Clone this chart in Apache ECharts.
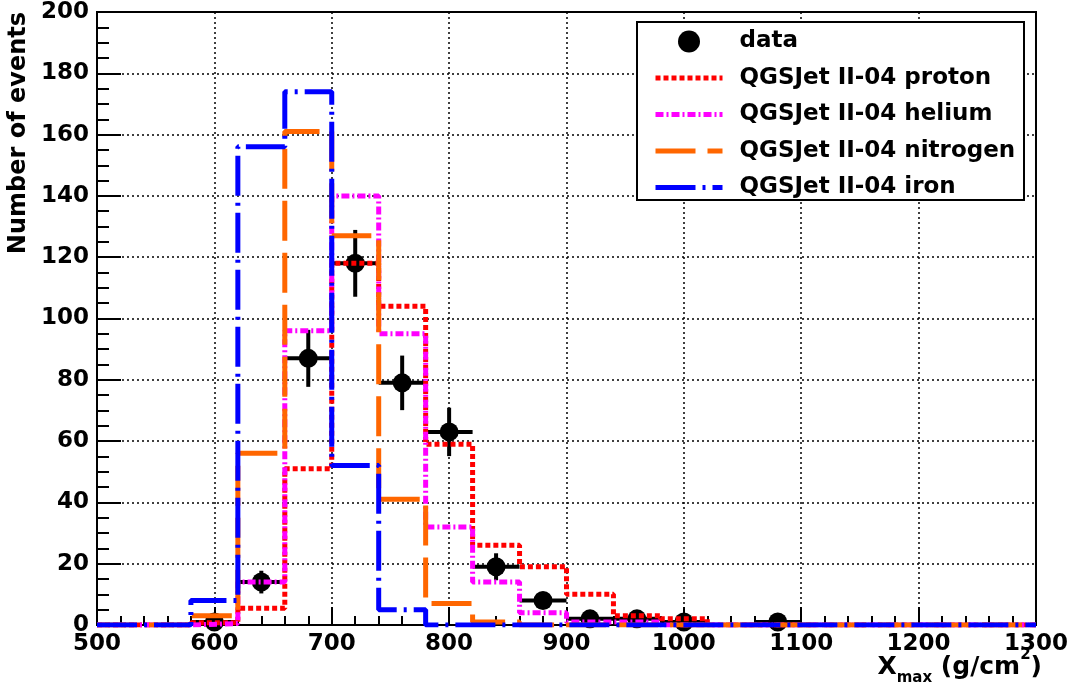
<!DOCTYPE html>
<html>
<head>
<meta charset="utf-8">
<script src="https://cdn.jsdelivr.net/npm/echarts@6/dist/echarts.min.js"></script>
<style>
  html, body { margin: 0; padding: 0; background: #fff; }
  #main { width: 1071px; height: 694px; }
</style>
</head>
<body>
<div id="main"></div>
<script>
// Xmax distributions, bins of 40 g/cm2 from 500 to 1300
var binEdges = [500, 540, 580, 620, 660, 700, 740, 780, 820, 860, 900, 940, 980, 1020, 1060, 1100, 1140, 1180, 1220, 1260, 1300];
var protonVals   = [0, 0, 0.7, 5.5, 51, 118, 104, 59, 26, 19, 10, 3, 2, 0, 0, 0, 0, 0, 0, 0];
var heliumVals   = [0, 0, 0.5, 14, 96, 140, 95, 32, 14, 4, 1, 1, 0, 0, 0, 0, 0, 0, 0, 0];
var nitrogenVals = [0, 0, 3, 56, 161, 127, 41, 7, 1, 0, 0, 0, 0, 0, 0, 0, 0, 0, 0, 0];
var ironVals     = [0, 0, 8, 156, 174, 52, 5, 0, 0, 0, 0, 0, 0, 0, 0, 0, 0, 0, 0, 0];

// measured events (bin centres), with errors
var dataX   = [600, 640, 680, 720, 760, 800, 840, 880, 920, 960, 1000, 1080];
var dataY   = [1, 14, 87, 118, 79, 63, 19, 8, 2, 2, 1, 1];
var dataErr = [1, 3.7, 9.3, 10.9, 8.9, 7.9, 4.4, 2.8, 1.4, 1.4, 1, 1];
var halfBin = 20;

var seriesNames = ['QGSJet II-04 proton', 'QGSJet II-04 helium', 'QGSJet II-04 nitrogen', 'QGSJet II-04 iron'];
var xTicks = [500, 600, 700, 800, 900, 1000, 1100, 1200, 1300];
var yTicks = [0, 20, 40, 60, 80, 100, 120, 140, 160, 180, 200];

var FONT = '"DejaVu Sans", "Liberation Sans", sans-serif';

// histogram -> step points
function stepData(vals) {
  return binEdges.map(function (e, i) {
    return [e, vals[Math.min(i, vals.length - 1)]];
  });
}

function histSeries(name, vals, color, dash) {
  return {
    name: name,
    type: 'line',
    step: 'end',
    symbol: 'none',
    data: stepData(vals),
    lineStyle: { color: color, width: 5, type: dash, cap: 'butt' },
    itemStyle: { color: color },
    z: 3,
    silent: true,
    animation: false
  };
}

// legend entry for a histogram: line only, hide the marker
function lineEntry(name) {
  return { name: name, itemStyle: { opacity: 0, color: 'transparent', borderWidth: 0 } };
}

var chart = echarts.init(document.getElementById('main'), null, { renderer: 'canvas' });

var option = {
  backgroundColor: '#fff',
  animation: false,
  grid: {
    left: 97, right: 31, top: 12, bottom: 69,
    show: true,
    borderColor: '#000',
    borderWidth: 2,
    backgroundColor: 'transparent'
  },
  legend: {
    orient: 'vertical',
    left: 653,
    top: 30,
    itemWidth: 67,
    itemHeight: 22,
    itemGap: 13.5,
    padding: 0,
    selectedMode: false,
    lineStyle: { width: 5 },
    data: [{ name: 'data', icon: 'circle' }].concat(seriesNames.map(lineEntry)),
    textStyle: {
      fontFamily: FONT,
      fontWeight: 'bold',
      fontSize: 23,
      color: '#000',
      padding: [0, 0, 0, 12]
    }
  },
  xAxis: {
    type: 'value',
    min: 500,
    max: 1300,
    interval: 100,
    axisLine: { lineStyle: { color: '#000', width: 2 } },
    axisTick: { inside: true, length: 18, lineStyle: { color: '#000', width: 2 } },
    minorTick: { show: true, splitNumber: 5, length: 9, lineStyle: { color: '#000', width: 2 } },
    axisLabel: {
      margin: 8,
      fontFamily: FONT, fontWeight: 'bold', fontSize: 23, color: '#000',
      formatter: function (v) { return xTicks.indexOf(v) >= 0 ? String(v) : ''; }
    },
    splitLine: { show: true, lineStyle: { color: '#000', width: 1.5, type: [2, 3] } }
  },
  yAxis: {
    type: 'value',
    min: 0,
    max: 200,
    interval: 20,
    axisLine: { show: true, lineStyle: { color: '#000', width: 2 } },
    axisTick: { show: true, inside: true, length: 24, lineStyle: { color: '#000', width: 2 } },
    minorTick: { show: true, splitNumber: 4, length: 12, lineStyle: { color: '#000', width: 2 } },
    axisLabel: {
      margin: 8,
      fontFamily: FONT, fontWeight: 'bold', fontSize: 23, color: '#000',
      formatter: function (v) { return yTicks.indexOf(v) >= 0 ? String(v) : ''; }
    },
    splitLine: { show: true, lineStyle: { color: '#000', width: 1.5, type: [2, 3] } }
  },
  graphic: [
    {
      // legend frame
      type: 'rect',
      z: 3,
      shape: { x: 637, y: 22, width: 387, height: 178 },
      style: { fill: '#fff', stroke: '#000', lineWidth: 2 }
    },
    {
      type: 'text',
      x: 19, y: 12,
      rotation: Math.PI / 2,
      style: {
        text: 'Number of events',
        fontFamily: FONT, fontWeight: 'bold', fontSize: 24,
        fill: '#000',
        align: 'right', verticalAlign: 'middle'
      }
    },
    {
      type: 'text',
      x: 1042, y: 686,
      style: {
        text: '{b|X}{s|max}{b| (g/cm}{p|2}{b|)}',
        fontFamily: FONT, fontWeight: 'bold', fill: '#000',
        align: 'right', verticalAlign: 'bottom',
        rich: {
          b: { fontFamily: FONT, fontWeight: 'bold', fontSize: 25, lineHeight: 38, verticalAlign: 'middle' },
          s: { fontFamily: FONT, fontWeight: 'bold', fontSize: 15, lineHeight: 38, verticalAlign: 'bottom' },
          p: { fontFamily: FONT, fontWeight: 'bold', fontSize: 15, lineHeight: 38, verticalAlign: 'top' }
        }
      }
    }
  ],
  series: [
    {
      name: 'dataErr',
      type: 'custom',
      z: 2,
      silent: true,
      data: dataX.map(function (x, i) { return [x, dataY[i], dataErr[i]]; }),
      renderItem: function (params, api) {
        var x = api.value(0), y = api.value(1), e = api.value(2);
        var l = api.coord([x - halfBin, y]);
        var r = api.coord([x + halfBin, y]);
        var t = api.coord([x, y + e]);
        var b = api.coord([x, Math.max(0, y - e)]);
        var st = { stroke: '#000', lineWidth: 4 };
        return {
          type: 'group',
          children: [
            { type: 'line', shape: { x1: l[0], y1: l[1], x2: r[0], y2: r[1] }, style: st },
            { type: 'line', shape: { x1: t[0], y1: t[1], x2: b[0], y2: b[1] }, style: st }
          ]
        };
      }
    },
    {
      name: 'data',
      type: 'scatter',
      z: 2,
      symbol: 'circle',
      symbolSize: 19,
      itemStyle: { color: '#000', opacity: 1 },
      data: dataX.map(function (x, i) { return [x, dataY[i]]; })
    },
    histSeries(seriesNames[0], protonVals, '#ff0000', [5, 3]),
    histSeries(seriesNames[1], heliumVals, '#ff00ff', [8, 3, 2, 3]),
    histSeries(seriesNames[2], nitrogenVals, '#ff6600', [40, 12]),
    histSeries(seriesNames[3], ironVals, '#0000ff', [40, 7, 3, 7])
  ]
};

chart.setOption(option);
</script>
</body>
</html>
